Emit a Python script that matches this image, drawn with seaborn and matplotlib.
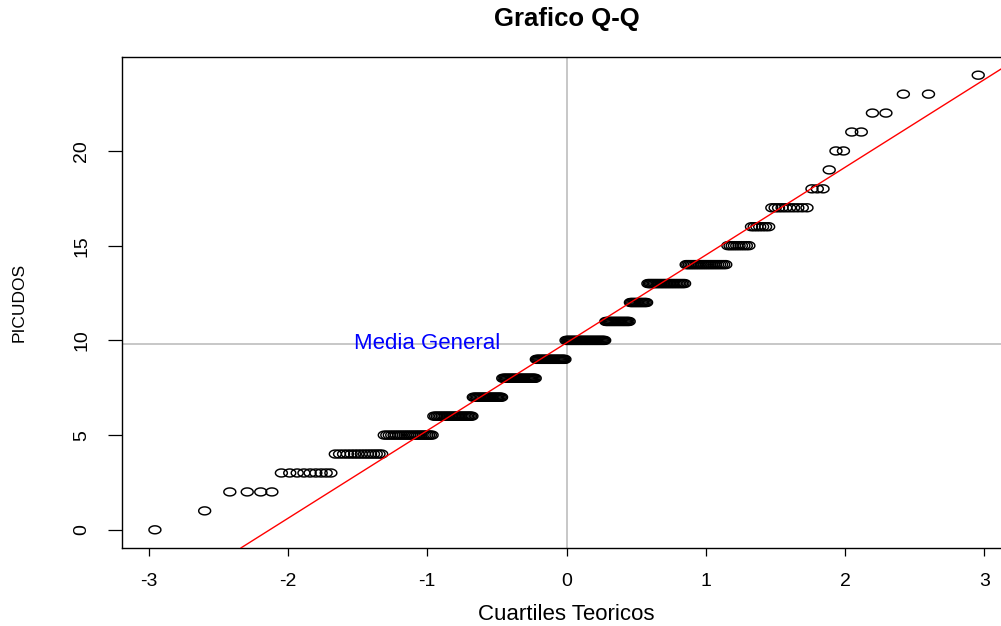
import numpy as np
import pandas as pd
import matplotlib
matplotlib.use("Agg")
import matplotlib.pyplot as plt
import seaborn as sns
from statistics import NormalDist

# Observed PICUDOS values and how many observations take each value
picudos_values = list(range(25))
picudos_counts = [1, 1, 4, 9, 15, 24, 26, 23, 29, 27, 36, 21, 14,
                  27, 23, 10, 7, 10, 3, 1, 2, 2, 2, 2, 1]

x_ticks = [-3, -2, -1, 0, 1, 2, 3]
y_ticks = [0, 5, 10, 15, 20]

title_text = "Grafico Q-Q"
x_label = "Cuartiles Teoricos"
y_label = "PICUDOS"
mean_label = "Media General"

# Normal Q-Q coordinates (plotting positions (i - 0.5) / n)
sample = np.sort(np.repeat(picudos_values, picudos_counts)).astype(float)
n = sample.size
std_normal = NormalDist()
probs = (np.arange(1, n + 1) - 0.5) / n
theoretical = np.array([std_normal.inv_cdf(p) for p in probs])
df = pd.DataFrame({"teorico": theoretical, "picudos": sample})

# Reference line through the first and third quartiles
q_y = np.quantile(sample, [0.25, 0.75])
q_x = np.array([std_normal.inv_cdf(0.25), std_normal.inv_cdf(0.75)])
slope = (q_y[1] - q_y[0]) / (q_x[1] - q_x[0])
intercept = q_y[0] - slope * q_x[0]
media = sample.mean()

sns.set_style("ticks")
plt.rcParams["font.family"] = ["Liberation Sans", "DejaVu Sans"]
plt.rcParams["text.color"] = "black"
plt.rcParams["axes.labelcolor"] = "black"
plt.rcParams["axes.unicode_minus"] = False

W, H = 1001, 626
fig = plt.figure(figsize=(W / 100, H / 100), dpi=100)

# axis ranges padded by 4% on each side
xr = theoretical.max() - theoretical.min()
yr = sample.max() - sample.min()
xlim = (theoretical.min() - 0.04 * xr, theoretical.max() + 0.04 * xr)
ylim = (sample.min() - 0.04 * yr, sample.max() + 0.04 * yr)

px_per_unit = 139.3
left_px, top_px, bottom_px = 122, 57, 548
right_px = left_px + (xlim[1] - xlim[0]) * px_per_unit
ax = fig.add_axes([left_px / W, 1 - bottom_px / H,
                   (right_px - left_px) / W, (bottom_px - top_px) / H])

ax.axvline(0, color="#bebebe", lw=1.2, zorder=1)
ax.axhline(media, color="#bebebe", lw=1.2, zorder=1)
ax.axline((0, intercept), slope=slope, color="red", lw=1.0, zorder=4)

# open, slightly wide circles
t = np.linspace(0, 2 * np.pi, 60)
ring = np.column_stack([np.cos(t), np.sin(t) / 1.5])
sns.scatterplot(data=df, x="teorico", y="picudos", marker=ring, s=74,
                facecolor="none", edgecolor="black", linewidth=1.05,
                ax=ax, zorder=3, legend=False)
pts = ax.collections[-1]
pts.set_facecolor("none")
pts.set_edgecolor("black")

ax.text(-1, media, mean_label, color="blue", ha="center", va="center",
        fontsize=16, zorder=5)

ax.set_xlim(xlim)
ax.set_ylim(ylim)
ax.set_xticks(x_ticks)
ax.set_yticks(y_ticks)
ax.tick_params(axis="x", direction="out", length=5.8, width=0.9, pad=12,
               labelsize=14, colors="black", bottom=True)
ax.tick_params(axis="y", direction="out", length=10, width=0.9, pad=13,
               labelsize=14, colors="black", left=True, labelrotation=90)
for lab in ax.get_yticklabels():
    lab.set_va("center")

for sp in ax.spines.values():
    sp.set_visible(True)
    sp.set_color("black")
    sp.set_linewidth(1.0)

ax.set_xlabel(x_label, fontsize=16)
ax.set_ylabel(y_label, fontsize=12.5)
ax.xaxis.set_label_coords(0.5, ((H - 615) / H - (1 - bottom_px / H)) / ((bottom_px - top_px) / H))
ax.xaxis.label.set_va("center")
ax.yaxis.set_label_coords((19 - left_px) / (right_px - left_px), 0.5)
ax.yaxis.label.set_va("center")

fig.text((left_px + right_px) / 2 / W, 1 - 19 / H, title_text,
         ha="center", va="center", fontsize=18.5, fontweight="bold")

fig.savefig("out.png", dpi=100)
